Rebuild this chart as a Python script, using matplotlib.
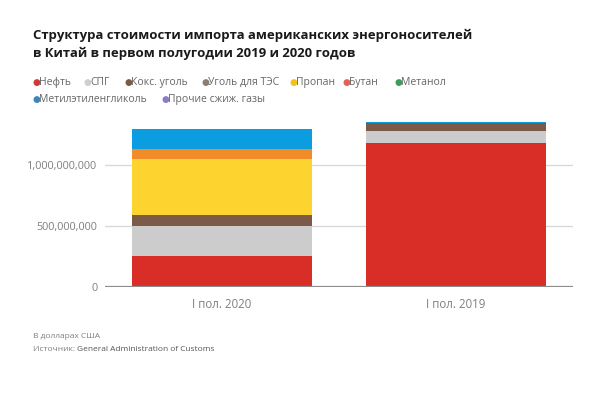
import matplotlib
matplotlib.use("Agg")
import matplotlib.pyplot as plt
from matplotlib.ticker import FuncFormatter

# ---- data ----
categories = ["I пол. 2020", "I пол. 2019"]
series_names = ["Нефть", "СПГ", "Кокс. уголь", "Уголь для ТЭС", "Пропан",
                "Бутан", "Метанол", "Метилэтиленгликоль", "Прочие сжиж. газы"]
neft = [257e6, 1180e6]
spg = [248e6, 103e6]
koks_ugol = [85e6, 61e6]
ugol_tes = [0, 0]
propan = [461e6, 0]
butan = [80e6, 0]
metanol = [0, 0]
meg = [164e6, 11e6]
prochie = [0, 0]
series_values = [neft, spg, koks_ugol, ugol_tes, propan, butan, metanol, meg, prochie]
yticks = [0, 500e6, 1000e6]

# ---- style ----
bar_colors = ["#D92D27", "#CCCCCC", "#7B5B47", "#8E7D6D", "#FDD32F",
              "#F28C28", "#3C9D58", "#0B9DE0", "#8E7CC3"]
legend_colors = ["#D03A36", "#CFCFCF", "#7B5B47", "#8E7D6D", "#F2C21B",
                 "#E0605A", "#3C9D58", "#3A86C0", "#8E7CC3"]
FONT = ["Open Sans", "DejaVu Sans"]
plt.rcParams['font.family'] = FONT

fig = plt.figure(figsize=(6.05, 3.93), dpi=100)
W, H = 605, 393
ax_left, ax_right, ax_zero = 105, 573, 287.3
ymax = 1.4e9
px_per_val = 61 / 500e6
ax_top = ax_zero - ymax * px_per_val
ax = fig.add_axes([ax_left / W, (H - ax_zero) / H, (ax_right - ax_left) / W,
                   (ax_zero - ax_top) / H])

x = list(range(len(categories)))
bottom = [0.0] * len(categories)
for vals, col in zip(series_values, bar_colors):
    ax.bar(x, vals, width=0.77, bottom=bottom, color=col, zorder=3, linewidth=0)
    bottom = [b + v for b, v in zip(bottom, vals)]

ax.set_xlim(-0.5, 1.5)
ax.set_ylim(0, ymax)
ax.set_yticks(yticks)
ax.yaxis.set_major_formatter(FuncFormatter(lambda v, p: f"{int(v):,}"))
ax.set_xticks(x)
ax.set_xticklabels(categories)
ax.tick_params(axis='both', length=0, colors="#7F7F7F")
ax.tick_params(axis='y', pad=5.5, labelsize=7.8)
ax.tick_params(axis='x', pad=8, labelsize=8.3)
for s in ax.spines.values():
    s.set_visible(False)
ax.grid(axis='y', color="#D9D9D9", linewidth=1, zorder=0)
ax.axhline(0, color="#8C8C8C", linewidth=1.6, zorder=4)

# ---- title (fit to reference width) ----
title_lines = ["Структура стоимости импорта американских энергоносителей",
               "в Китай в первом полугодии 2019 и 2020 годов"]
t_title = [fig.text(33 / W, 1 - yy / H, s, fontsize=10.5, fontweight='bold',
                    color="#1A1A1A", va='center', ha='left')
           for s, yy in zip(title_lines, [35, 53.5])]
fig.canvas.draw()
w0 = t_title[0].get_window_extent().width
scale = 440 / w0
for t in t_title:
    t.set_fontsize(10.5 * scale)

# ---- legend ----
legend_pos = [(36, 82.3), (87, 82.3), (128, 82.3), (205, 82.3), (293, 82.3),
              (346, 82.3), (398, 82.3), (36, 99.7), (165, 99.7)]
for name, col, (lx, ly) in zip(series_names, legend_colors, legend_pos):
    fig.text(lx / W, 1 - ly / H, "●", color=col, fontsize=6.5, va='center',
             ha='center', family=["DejaVu Sans"])
    fig.text((lx + 3.2) / W, 1 - ly / H, name, color="#666666", fontsize=7.5,
             va='center', ha='left')

# ---- footer ----
fig.text(33 / W, 1 - 336.7 / H, "В долларах США", fontsize=6, color="#7F7F7F",
         va='center', ha='left')
t1 = fig.text(33 / W, 1 - 349.5 / H, "Источник: ", fontsize=6, color="#7F7F7F",
              va='center', ha='left')
fig.canvas.draw()
bb = t1.get_window_extent()
fig.text(bb.x1 / W, 1 - 349.5 / H, "General Administration of Customs", fontsize=6,
         color="#555555", va='center', ha='left')

fig.savefig("out.png", dpi=100, facecolor="white")
